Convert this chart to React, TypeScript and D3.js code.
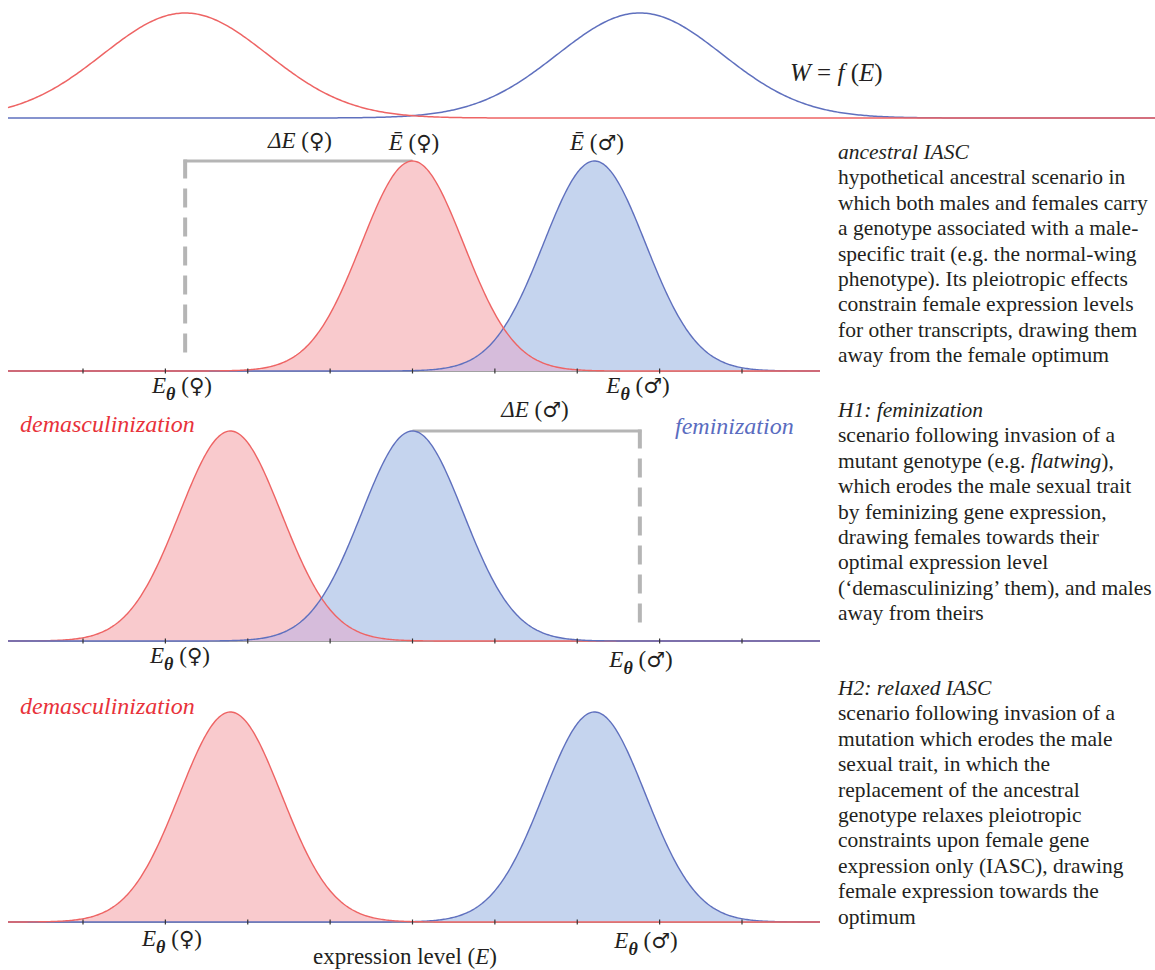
import React from "react";
import * as d3 from "d3";

// expression-level ticks (arbitrary units, 0 = centre)
const tickValues = [-4, -3, -2, -1, 0, 1, 2, 3, 4];

// fitness functions W = f(E): female optimum, male optimum
const fitnessPeaks = [-2.76, 2.76];
const fitnessSd = 1.0;

// expression distributions per scenario
const scenarioNames = ["ancestral IASC", "H1: feminization", "H2: relaxed IASC"];
const femaleMeans = [0, -2.21, -2.21];
const maleMeans = [2.21, 0, 2.21];
const expressionSd = 0.62;

// description blocks (*...* = italic)
const descriptions = [
  [
    "*ancestral IASC*",
    "hypothetical ancestral scenario in",
    "which both males and females carry",
    "a genotype associated with a male-",
    "specific trait (e.g. the normal-wing",
    "phenotype). Its pleiotropic effects",
    "constrain female expression levels",
    "for other transcripts, drawing them",
    "away from the female optimum",
  ],
  [
    "*H1: feminization*",
    "scenario following invasion of a",
    "mutant genotype (e.g. *flatwing*),",
    "which erodes the male sexual trait",
    "by feminizing gene expression,",
    "drawing females towards their",
    "optimal expression level",
    "(\u2018demasculinizing\u2019 them), and males",
    "away from theirs",
  ],
  [
    "*H2: relaxed IASC*",
    "scenario following invasion of a",
    "mutation which erodes the male",
    "sexual trait, in which the",
    "replacement of the ancestral",
    "genotype relaxes pleiotropic",
    "constraints upon female gene",
    "expression only (IASC), drawing",
    "female expression towards the",
    "optimum",
  ],
];

const W = 1155;
const H = 970;
const FONT = "'Liberation Serif', 'DejaVu Serif', serif";
const SYM = "'DejaVu Sans', sans-serif";
const RED = "#ee6464";
const BLUE = "#5f70be";
const RED_FILL = "#f9cacd";
const BLUE_FILL = "#c5d4ee";
const MIX_FILL = "#d6bcdb";
const RED_TXT = "#e8323a";
const BLUE_TXT = "#5a6cc0";
const INK = "#231f20";
const GREY = "#b5b5b5";

const panelBase = [371, 641, 922];
const panelHeight = 210;
const topBase = 118;
const topHeight = 105;
const descTop = [159, 417, 695];
const lineH = 25.4;
const dashRun = 7 * 29 - 10; // seven dashes of "19 10"

const x = d3.scaleLinear().domain([-4, 4]).range([83, 742]);

const gauss = (mu: number, sd: number) => (e: number) =>
  Math.exp(-((e - mu) ** 2) / (2 * sd * sd));

function sample(x0: number, x1: number) {
  const e0 = x.invert(x0);
  const e1 = x.invert(x1);
  return d3.range(e0, e1, (e1 - e0) / 600).concat([e1]);
}

function linePath(f: (e: number) => number, y: any, x0: number, x1: number) {
  return (
    d3
      .line<number>()
      .x((e) => x(e))
      .y((e) => y(f(e)))(sample(x0, x1)) || ""
  );
}

function areaPath(f: (e: number) => number, y: any, x0: number, x1: number) {
  return (
    d3
      .area<number>()
      .x((e) => x(e))
      .y0(y(0))
      .y1((e) => y(f(e)))(sample(x0, x1)) || ""
  );
}

function Sym({ s }: { s: string }) {
  return (
    <tspan fontFamily={SYM} fontSize={21}>
      {s}
    </tspan>
  );
}

function ETheta({ cx, y, sym }: { cx: number; y: number; sym: string }) {
  return (
    <text x={cx} y={y} textAnchor="middle" fontFamily={FONT} fontSize={23} fill={INK}>
      <tspan fontStyle="italic">E</tspan>
      <tspan fontStyle="italic" fontWeight="bold" fontSize={18} dy={7}>
        {"\u03b8"}
      </tspan>
      <tspan dy={-7}> (</tspan>
      <Sym s={sym} />
      <tspan>)</tspan>
    </text>
  );
}

function Panel({ i }: { i: number }) {
  const base = panelBase[i];
  const y = d3.scaleLinear().domain([0, 1]).range([base, base - panelHeight]);
  const f = gauss(femaleMeans[i], expressionSd);
  const m = gauss(maleMeans[i], expressionSd);
  const both = (e: number) => Math.min(f(e), m(e));
  const redLine = <path d={linePath(f, y, 8, 820)} fill="none" stroke={RED} strokeWidth={1.4} />;
  const blueLine = <path d={linePath(m, y, 8, 820)} fill="none" stroke={BLUE} strokeWidth={1.4} />;
  return (
    <g>
      <line x1={8} x2={820} y1={base} y2={base} stroke="#444" strokeWidth={1} />
      <path d={areaPath(f, y, 8, 820)} fill={RED_FILL} />
      <path d={areaPath(m, y, 8, 820)} fill={BLUE_FILL} />
      <path d={areaPath(both, y, 8, 820)} fill={MIX_FILL} />
      {i === 1 ? (
        <>
          {redLine}
          {blueLine}
        </>
      ) : (
        <>
          {blueLine}
          {redLine}
        </>
      )}
      {tickValues.map((t) => (
        <line key={t} x1={x(t)} x2={x(t)} y1={base - 2.5} y2={base + 2.5} stroke="#333" strokeWidth={1.2} />
      ))}
    </g>
  );
}

function Desc({ lines, top }: { lines: string[]; top: number }) {
  return (
    <text fontFamily={FONT} fontSize={21.5} fill={INK}>
      {lines.map((ln, k) => (
        <tspan key={k} x={838} y={top + k * lineH}>
          {ln.split("*").map((part, j) =>
            j % 2 === 1 ? (
              <tspan key={j} fontStyle="italic">
                {part}
              </tspan>
            ) : (
              <tspan key={j}>{part}</tspan>
            )
          )}
        </tspan>
      ))}
    </text>
  );
}

export default function App() {
  const yTop = d3.scaleLinear().domain([0, 1]).range([topBase, topBase - topHeight]);
  const b1 = panelBase[0];
  const b2 = panelBase[1];
  const fPk = x(fitnessPeaks[0]);
  const mPk = x(fitnessPeaks[1]);
  const peak1 = b1 - panelHeight;
  const peak2 = b2 - panelHeight;
  return (
    <svg
      width={W}
      height={H}
      style={{ position: "absolute", left: 0, top: 0, background: "#fff" }}
    >
      {/* fitness functions */}
      <path d={linePath(gauss(fitnessPeaks[1], fitnessSd), yTop, 8, 1155)} fill="none" stroke={BLUE} strokeWidth={1.5} />
      <path d={linePath(gauss(fitnessPeaks[0], fitnessSd), yTop, 8, 1155)} fill="none" stroke={RED} strokeWidth={1.5} />
      <text x={790} y={81} fontFamily={FONT} fontSize={25} fill={INK} fontStyle="italic">
        W<tspan fontStyle="normal"> = </tspan>f<tspan fontStyle="normal"> (</tspan>E<tspan fontStyle="normal">)</tspan>
      </text>

      {/* brackets */}
      <line x1={fPk - 1.5} x2={x(femaleMeans[0])} y1={peak1} y2={peak1} stroke={GREY} strokeWidth={3} />
      <line x1={fPk} x2={fPk} y1={peak1 - 1.5} y2={peak1 - 1.5 + dashRun} stroke={GREY} strokeWidth={4} strokeDasharray="19 10" />
      <line x1={x(maleMeans[1])} x2={mPk + 1.5} y1={peak2} y2={peak2} stroke={GREY} strokeWidth={3} />
      <line x1={mPk} x2={mPk} y1={peak2 - 1.5} y2={peak2 - 1.5 + dashRun} stroke={GREY} strokeWidth={4} strokeDasharray="19 10" />

      {[0, 1, 2].map((i) => (
        <Panel key={i} i={i} />
      ))}

      {/* panel 1 labels */}
      <text x={300} y={148} textAnchor="middle" fontFamily={FONT} fontSize={23} fill={INK}>
        <tspan fontStyle="italic">{"\u0394E"}</tspan> (<Sym s={"\u2640"} />)
      </text>
      <text x={414} y={150} textAnchor="middle" fontFamily={FONT} fontSize={23} fill={INK}>
        <tspan fontStyle="italic">{"\u0112"}</tspan> (<Sym s={"\u2640"} />)
      </text>
      <text x={597} y={150} textAnchor="middle" fontFamily={FONT} fontSize={23} fill={INK}>
        <tspan fontStyle="italic">{"\u0112"}</tspan> (<Sym s={"\u2642"} />)
      </text>
      <ETheta cx={182} y={393} sym={"\u2640"} />
      <ETheta cx={638} y={393} sym={"\u2642"} />

      {/* panel 2 labels */}
      <text x={20} y={432} fontFamily={FONT} fontSize={24} fill={RED_TXT} fontStyle="italic">
        demasculinization
      </text>
      <text x={675} y={434} fontFamily={FONT} fontSize={24} fill={BLUE_TXT} fontStyle="italic">
        feminization
      </text>
      <text x={535} y={417} textAnchor="middle" fontFamily={FONT} fontSize={23} fill={INK}>
        <tspan fontStyle="italic">{"\u0394E"}</tspan> (<Sym s={"\u2642"} />)
      </text>
      <ETheta cx={180} y={663} sym={"\u2640"} />
      <ETheta cx={641} y={667} sym={"\u2642"} />

      {/* panel 3 labels */}
      <text x={20} y={714} fontFamily={FONT} fontSize={24} fill={RED_TXT} fontStyle="italic">
        demasculinization
      </text>
      <ETheta cx={172} y={946} sym={"\u2640"} />
      <ETheta cx={646} y={948} sym={"\u2642"} />
      <text x={405} y={964} textAnchor="middle" fontFamily={FONT} fontSize={23} fill={INK}>
        expression level (<tspan fontStyle="italic">E</tspan>)
      </text>

      {descriptions.map((lines, i) => (
        <Desc key={scenarioNames[i]} lines={lines} top={descTop[i]} />
      ))}
    </svg>
  );
}
